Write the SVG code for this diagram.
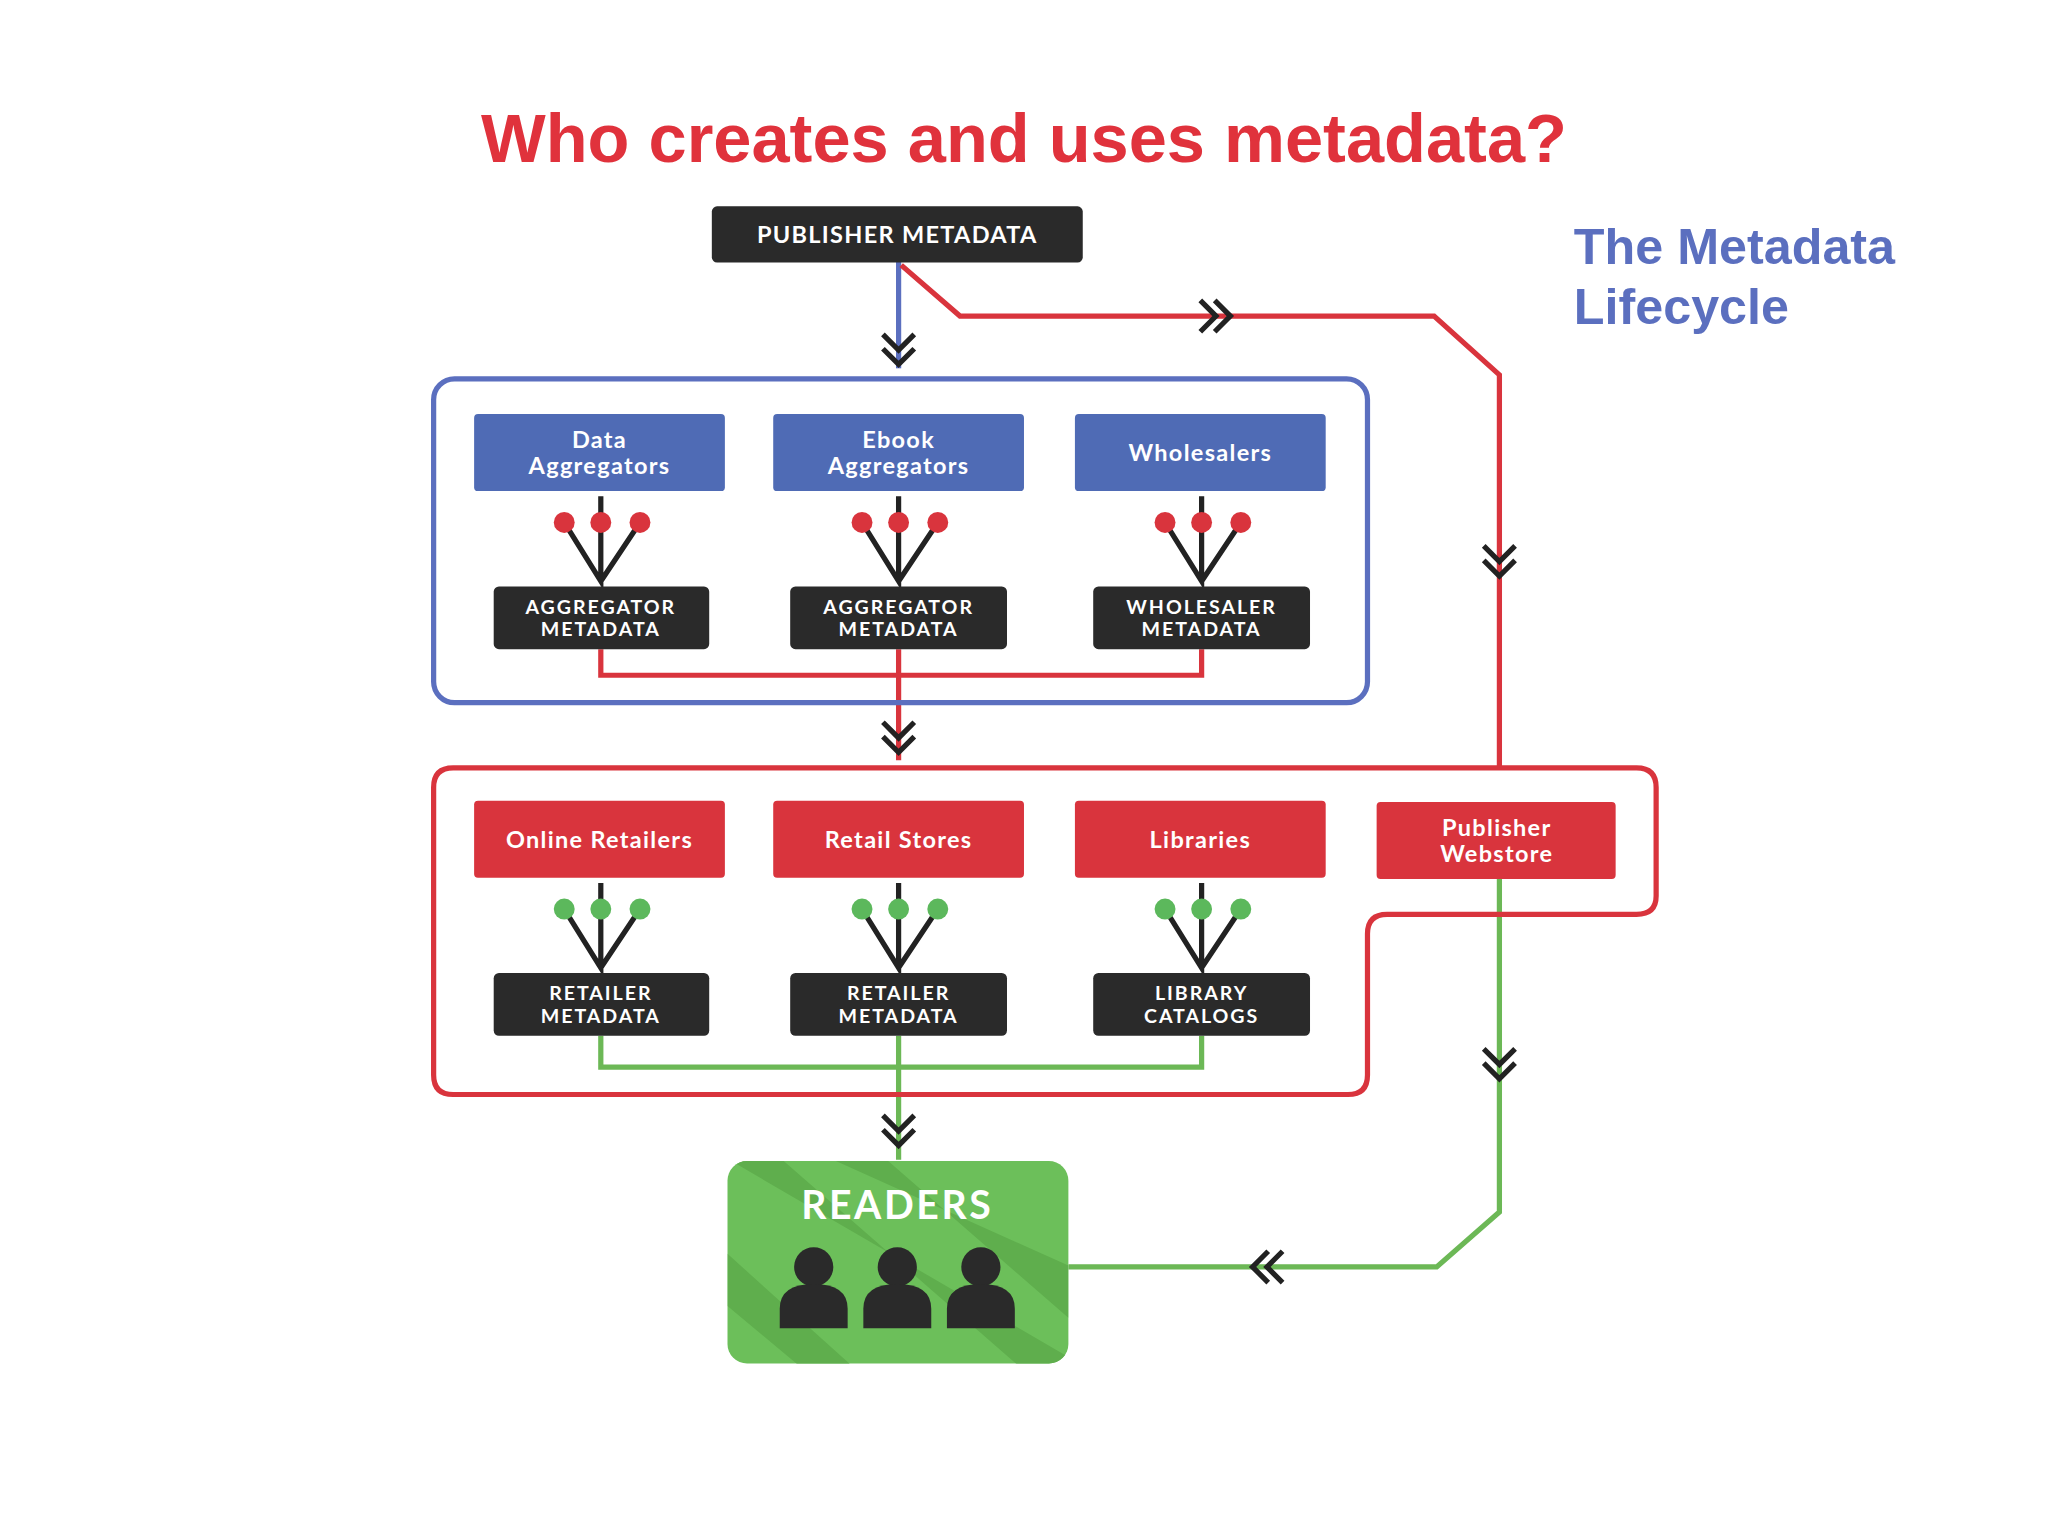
<svg xmlns="http://www.w3.org/2000/svg" width="2048" height="1536" viewBox="0 0 2048 1536">
<defs>
<style>
.t{font-family:"Liberation Sans",Arial,sans-serif;font-weight:bold}
.bx{fill:#4f6bb5}
.rx{fill:#d9343d}
.dk{fill:#2a2a2a}
.lbl{font-family:Lato,"Liberation Sans",sans-serif;font-weight:bold;fill:#fff;font-size:18px;text-anchor:middle;letter-spacing:1px}
.sm{font-family:Lato,"Liberation Sans",sans-serif;font-weight:bold;fill:#fff;font-size:15px;text-anchor:middle;letter-spacing:1.5px}
.chev{fill:none;stroke:#222;stroke-width:4}
.tree{fill:none;stroke:#222;stroke-width:4}
</style>
<clipPath id="rc"><rect x="557" y="889" width="261" height="155" rx="15"/></clipPath>
</defs>
<rect width="2048" height="1536" fill="#fff"/>
<g transform="scale(1.3061)">
<text class="t" x="784" y="124" font-size="52.5" fill="#e0323c" text-anchor="middle">Who creates and uses metadata?</text>
<text class="t" x="1205" y="202" font-size="38.5" fill="#5b6fbf">The Metadata</text>
<text class="t" x="1205" y="248" font-size="38.5" fill="#5b6fbf">Lifecycle</text>

<g id="connectors">
<path d="M688 200V282" stroke="#5b6fbf" stroke-width="4" fill="none"/>
<path d="M690 203L735 242H1098L1148 287V588" stroke="#d9343d" stroke-width="4" fill="none"/>
<path d="M460 497V517H920V497M688 497V582" stroke="#d9343d" stroke-width="4" fill="none"/>
<path d="M460 793V817H920V793M688 793V888" stroke="#6cb856" stroke-width="4" fill="none"/>
<path d="M1148 673V928L1100 970H818" stroke="#6cb856" stroke-width="4" fill="none"/>
<path class="chev" d="M676 256l12 12 12-12M676 267l12 12 12-12"/>
<path class="chev" d="M676 553l12 12 12-12M676 564l12 12 12-12"/>
<path class="chev" d="M676 854l12 12 12-12M676 865l12 12 12-12"/>
<path class="chev" d="M1136 418l12 12 12-12M1136 429l12 12 12-12"/>
<path class="chev" d="M1136 803l12 12 12-12M1136 814l12 12 12-12"/>
<path class="chev" d="M919 230l12 12-12 12M930 230l12 12-12 12"/>
<path class="chev" d="M982 958l-12 12 12 12M971 958l-12 12 12 12"/>
</g>

<g id="publisher"><rect class="dk" x="545" y="158" width="284" height="43" rx="4"/><text class="lbl" x="687" y="186">PUBLISHER METADATA</text></g>

<g id="blueGroup">
<rect x="332" y="290" width="715" height="248" rx="16" fill="none" stroke="#5b6fbf" stroke-width="4"/>
<rect class="bx" x="363" y="317" width="192" height="59" rx="3"/><text class="lbl" x="459" y="343">Data</text><text class="lbl" x="459" y="363">Aggregators</text>
<rect class="bx" x="592" y="317" width="192" height="59" rx="3"/><text class="lbl" x="688" y="343">Ebook</text><text class="lbl" x="688" y="363">Aggregators</text>
<rect class="bx" x="823" y="317" width="192" height="59" rx="3"/><text class="lbl" x="919" y="353">Wholesalers</text>
<g fill="#d9343d">
<path class="tree" d="M460 380V445L432 400M460 445L490 400"/><circle cx="432" cy="400" r="8"/><circle cx="460" cy="400" r="8"/><circle cx="490" cy="400" r="8"/>
<path class="tree" d="M688 380V445L660 400M688 445L718 400"/><circle cx="660" cy="400" r="8"/><circle cx="688" cy="400" r="8"/><circle cx="718" cy="400" r="8"/>
<path class="tree" d="M920 380V445L892 400M920 445L950 400"/><circle cx="892" cy="400" r="8"/><circle cx="920" cy="400" r="8"/><circle cx="950" cy="400" r="8"/>
</g>
<rect class="dk" x="378" y="449" width="165" height="48" rx="4"/><text class="sm" x="460" y="470">AGGREGATOR</text><text class="sm" x="460" y="487">METADATA</text>
<rect class="dk" x="605" y="449" width="166" height="48" rx="4"/><text class="sm" x="688" y="470">AGGREGATOR</text><text class="sm" x="688" y="487">METADATA</text>
<rect class="dk" x="837" y="449" width="166" height="48" rx="4"/><text class="sm" x="920" y="470">WHOLESALER</text><text class="sm" x="920" y="487">METADATA</text>
</g>

<g id="redGroup">
<path d="M347 588H1253Q1268 588 1268 603V686Q1268 700 1253 700H1062Q1047 700 1047 715V823Q1047 838 1032 838H347Q332 838 332 823V603Q332 588 347 588Z" fill="none" stroke="#d9343d" stroke-width="4"/>
<rect class="rx" x="363" y="613" width="192" height="59" rx="3"/><text class="lbl" x="459" y="649">Online Retailers</text>
<rect class="rx" x="592" y="613" width="192" height="59" rx="3"/><text class="lbl" x="688" y="649">Retail Stores</text>
<rect class="rx" x="823" y="613" width="192" height="59" rx="3"/><text class="lbl" x="919" y="649">Libraries</text>
<rect class="rx" x="1054" y="614" width="183" height="59" rx="3"/><text class="lbl" x="1146" y="640">Publisher</text><text class="lbl" x="1146" y="660">Webstore</text>
<g fill="#5cb85c">
<path class="tree" d="M460 676V741L432 696M460 741L490 696"/><circle cx="432" cy="696" r="8"/><circle cx="460" cy="696" r="8"/><circle cx="490" cy="696" r="8"/>
<path class="tree" d="M688 676V741L660 696M688 741L718 696"/><circle cx="660" cy="696" r="8"/><circle cx="688" cy="696" r="8"/><circle cx="718" cy="696" r="8"/>
<path class="tree" d="M920 676V741L892 696M920 741L950 696"/><circle cx="892" cy="696" r="8"/><circle cx="920" cy="696" r="8"/><circle cx="950" cy="696" r="8"/>
</g>
<rect class="dk" x="378" y="745" width="165" height="48" rx="4"/><text class="sm" x="460" y="766">RETAILER</text><text class="sm" x="460" y="783">METADATA</text>
<rect class="dk" x="605" y="745" width="166" height="48" rx="4"/><text class="sm" x="688" y="766">RETAILER</text><text class="sm" x="688" y="783">METADATA</text>
<rect class="dk" x="837" y="745" width="166" height="48" rx="4"/><text class="sm" x="920" y="766">LIBRARY</text><text class="sm" x="920" y="783">CATALOGS</text>
</g>

<g id="readers">
<rect x="557" y="889" width="261" height="155" rx="15" fill="#6cbf5a"/>
<g clip-path="url(#rc)" fill="#5fae4d">
<path d="M560 889h40l218 190v-40zM640 889h40l138 120v-40zM557 960v40l60 50h40z"/>
</g>
<text x="687" y="933" font-family="Lato,'Liberation Sans',sans-serif" font-weight="bold" font-size="30" fill="#fff" text-anchor="middle" letter-spacing="2">READERS</text>
<g fill="#2a2a2a">
<circle cx="623" cy="970" r="15"/><path d="M597 1017V1002Q597 983 623 983Q649 983 649 1002V1017Z"/>
<circle cx="687" cy="970" r="15"/><path d="M661 1017V1002Q661 983 687 983Q713 983 713 1002V1017Z"/>
<circle cx="751" cy="970" r="15"/><path d="M725 1017V1002Q725 983 751 983Q777 983 777 1002V1017Z"/>
</g>
</g>
</g>
</svg>
